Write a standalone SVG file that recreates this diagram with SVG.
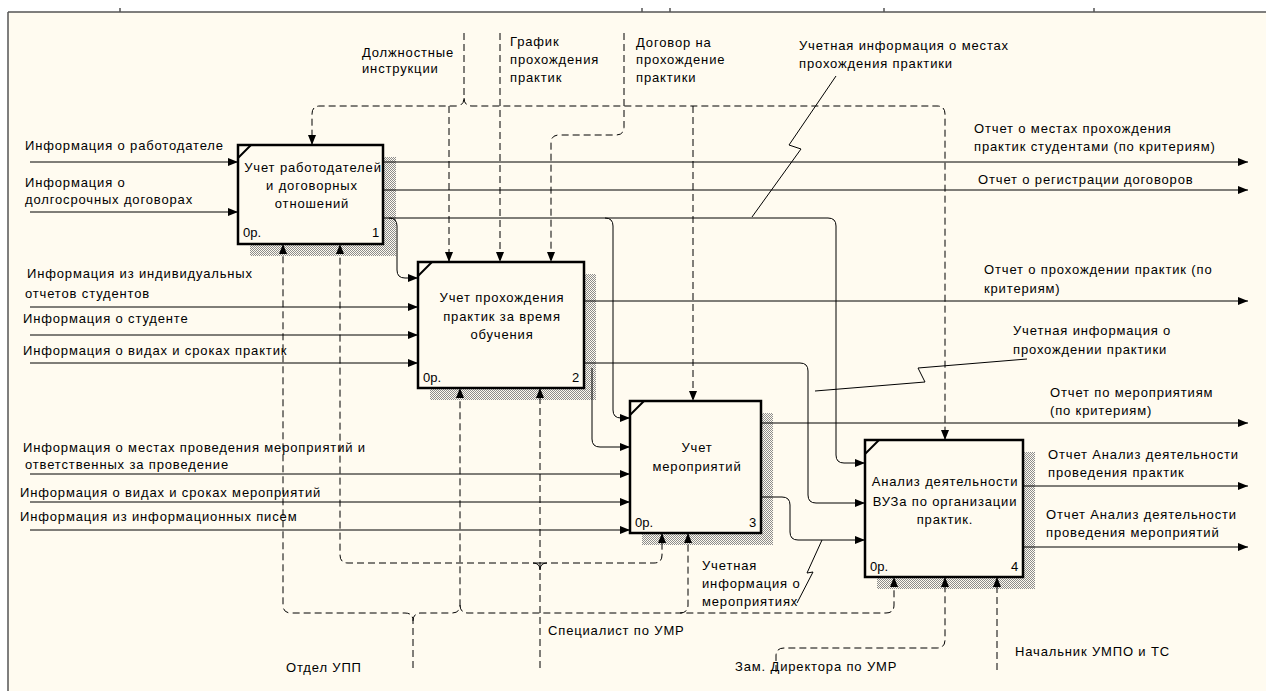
<svg xmlns="http://www.w3.org/2000/svg" width="1266" height="691" viewBox="0 0 1266 691">
<defs>
<pattern id="hatch" width="2" height="2" patternUnits="userSpaceOnUse">
<rect width="2" height="2" fill="#fffbf0"/>
<rect width="1" height="1" fill="#8c8c8c"/>
<rect x="1" y="1" width="1" height="1" fill="#8c8c8c"/>
</pattern>
<marker id="arr" markerUnits="userSpaceOnUse" markerWidth="11" markerHeight="9" refX="10" refY="4" orient="auto">
<path d="M0,0 L10,4 L0,8 Z" fill="#000"/>
</marker>
<style>
.t{font-family:"Liberation Sans",Arial,sans-serif;font-size:13px;letter-spacing:0.85px;fill:#000}
.m{text-anchor:middle}
.box{fill:#fffbf0;stroke:#000;stroke-width:2.5}
.sh{fill:url(#hatch)}
.c{fill:none;stroke:#000;stroke-width:1}
.a{marker-end:url(#arr)}
.d{stroke-dasharray:7,4}
</style>
</defs>
<rect x="0" y="0" width="1266" height="691" fill="#ffffff"/>
<rect x="8" y="12" width="1258" height="679" fill="#fffbf0"/>
<g stroke="#555" stroke-width="1.5">
<line x1="8" y1="12" x2="1266" y2="12"/>
<line x1="8" y1="12" x2="8" y2="691"/>
<line x1="120" y1="8" x2="120" y2="12"/>
<line x1="642" y1="8" x2="642" y2="12"/>
<line x1="670" y1="8" x2="670" y2="12"/>
<line x1="884" y1="8" x2="884" y2="12"/>
<line x1="1094" y1="8" x2="1094" y2="12"/>
</g>

<g id="node1">
<rect class="sh" x="250" y="157" width="146" height="99"/>
<rect class="box" x="238" y="145" width="145" height="99"/>
<line x1="238" y1="158" x2="251" y2="145" stroke="#000" stroke-width="2"/>
<text class="t m" x="313" y="172">Учет работодателей</text>
<text class="t m" x="312" y="190">и договорных</text>
<text class="t m" x="312" y="208">отношений</text>
<text class="t" x="243" y="237" style="letter-spacing:0">0р.</text>
<text class="t" x="372" y="237" style="letter-spacing:0">1</text>
</g>
<g id="node2">
<rect class="sh" x="430" y="274" width="166" height="126"/>
<rect class="box" x="418" y="262" width="166" height="126"/>
<line x1="418" y1="276" x2="432" y2="262" stroke="#000" stroke-width="2"/>
<text class="t m" x="502" y="302">Учет прохождения</text>
<text class="t m" x="502" y="321">практик за время</text>
<text class="t m" x="502" y="339">обучения</text>
<text class="t" x="423" y="382" style="letter-spacing:0">0р.</text>
<text class="t" x="572" y="382" style="letter-spacing:0">2</text>
</g>
<g id="node3">
<rect class="sh" x="642" y="413" width="131" height="132"/>
<rect class="box" x="630" y="401" width="131" height="132"/>
<line x1="630" y1="415" x2="644" y2="401" stroke="#000" stroke-width="2"/>
<text class="t m" x="697" y="452">Учет</text>
<text class="t m" x="697" y="471">мероприятий</text>
<text class="t" x="635" y="527" style="letter-spacing:0">0р.</text>
<text class="t" x="749" y="527" style="letter-spacing:0">3</text>
</g>
<g id="node4">
<rect class="sh" x="877" y="452" width="158" height="137"/>
<rect class="box" x="865" y="440" width="158" height="137"/>
<line x1="865" y1="454" x2="879" y2="440" stroke="#000" stroke-width="2"/>
<text class="t m" x="945" y="486">Анализ деятельности</text>
<text class="t m" x="945" y="506">ВУЗа по организации</text>
<text class="t m" x="945" y="524">практик.</text>
<text class="t" x="870" y="571" style="letter-spacing:0">0р.</text>
<text class="t" x="1011" y="571" style="letter-spacing:0">4</text>
</g>

<g id="connectors">
<path class="c a" d="M30,162 H238"/>
<path class="c a" d="M30,212 H238"/>
<path class="c a" d="M30,307 H418"/>
<path class="c a" d="M30,335 H418"/>
<path class="c a" d="M30,363 H418"/>
<path class="c a" d="M30,474 H630"/>
<path class="c a" d="M30,502 H630"/>
<path class="c a" d="M30,530 H630"/>
<path class="c a" d="M383,162 H1248"/>
<path class="c a" d="M383,190 H1248"/>
<path class="c a" d="M584,301 H1248"/>
<path class="c a" d="M761,423 H1248"/>
<path class="c a" d="M1023,486 H1248"/>
<path class="c a" d="M1023,547 H1248"/>
<path class="c a" d="M389,218 Q397,218 397,226 V270 Q397,278 405,278 H418"/>
<path class="c a" d="M383,218 H605 Q613,218 613,226 V410 Q613,418 621,418 H630"/>
<path class="c a" d="M605,218 H828 Q836,218 836,226 V455 Q836,463 844,463 H865"/>
<path class="c a" d="M592,368 V439 Q592,447 600,447 H630"/>
<path class="c a" d="M584,363 H800 Q808,363 808,371 V495 Q808,503 816,503 H865"/>
<path class="c a" d="M761,497 H782 Q790,497 790,505 V532 Q790,540 798,540 H865"/>
<path class="c d a" d="M464,33 V98 Q464,106 456,106 H320 Q312,106 312,114 V145"/>
<path class="c d a" d="M464,98 Q464,106 472,106 H937 Q945,106 945,114 V440"/>
<path class="c d a" d="M449,106 V262"/>
<path class="c d a" d="M693,106 V401"/>
<path class="c d a" d="M500,33 V262"/>
<path class="c d a" d="M624,33 V127 Q624,135 616,135 H559 Q551,135 551,143 V262"/>
<path class="c d a" d="M413,668 V621 Q413,613 405,613 H291 Q283,613 283,605 V244"/>
<path class="c d a" d="M413,621 Q413,613 421,613 H452 Q460,613 460,605 V388"/>
<path class="c d a" d="M460,605 Q460,613 468,613 H886 Q894,613 894,605 V577"/>
<path class="c d a" d="M680,613 Q688,613 688,605 V533"/>
<path class="c d a" d="M540,668 V388"/>
<path class="c d a" d="M540,563 H654 Q662,563 662,555 V533"/>
<path class="c d a" d="M540,563 H348 Q340,563 340,555 V244"/>
<path class="c" d="M533,563 Q540,563 540,570 M547,563 Q540,563 540,570"/>
<path class="c d a" d="M776,672 V656 Q776,648 784,648 H937 Q945,648 945,640 V577"/>
<path class="c d a" d="M997,670 V577"/>
<path class="c" d="M836,76 L789,145 L801,149 L752,217"/>
<path class="c" d="M1027,359 L918,368 L925,382 L815,391"/>
<path class="c" d="M822,540 L807,573 L813,572 L797,603"/>
</g>

<g id="labels">
<text class="t" x="25" y="150">Информация о работодателе</text>
<text class="t" x="25" y="187">Информация о</text>
<text class="t" x="25" y="204">долгосрочных договорах</text>
<text class="t" x="27" y="278">Информация из индивидуальных</text>
<text class="t" x="25" y="298">отчетов студентов</text>
<text class="t" x="23" y="323">Информация о студенте</text>
<text class="t" x="23" y="355">Информация о видах и сроках практик</text>
<text class="t" x="23" y="452">Информация о местах проведения мероприятий и</text>
<text class="t" x="25" y="469">ответственных за проведение</text>
<text class="t" x="20" y="497">Информация о видах и сроках мероприятий</text>
<text class="t" x="20" y="521">Информация из информационных писем</text>

<text class="t" x="362" y="57">Должностные</text>
<text class="t" x="362" y="73">инструкции</text>
<text class="t" x="510" y="46">График</text>
<text class="t" x="510" y="64">прохождения</text>
<text class="t" x="510" y="82">практик</text>
<text class="t" x="636" y="47">Договор на</text>
<text class="t" x="636" y="64">прохождение</text>
<text class="t" x="636" y="82">практики</text>
<text class="t" x="799" y="50">Учетная информация о местах</text>
<text class="t" x="799" y="68">прохождения практики</text>

<text class="t" x="974" y="133">Отчет о местах прохождения</text>
<text class="t" x="974" y="151">практик студентами (по критериям)</text>
<text class="t" x="978" y="184">Отчет о регистрации договоров</text>
<text class="t" x="984" y="274">Отчет о прохождении практик (по</text>
<text class="t" x="984" y="293">критериям)</text>
<text class="t" x="1013" y="335">Учетная информация о</text>
<text class="t" x="1013" y="354">прохождении практики</text>
<text class="t" x="1050" y="397">Отчет по мероприятиям</text>
<text class="t" x="1050" y="415">(по критериям)</text>
<text class="t" x="1048" y="459">Отчет Анализ деятельности</text>
<text class="t" x="1048" y="477">проведения практик</text>
<text class="t" x="1046" y="519">Отчет Анализ деятельности</text>
<text class="t" x="1046" y="537">проведения мероприятий</text>

<text class="t" x="702" y="570">Учетная</text>
<text class="t" x="702" y="588">информация о</text>
<text class="t" x="702" y="606">мероприятиях</text>
<text class="t" x="548" y="635">Специалист по УМР</text>
<text class="t" x="286" y="672">Отдел УПП</text>
<text class="t" x="735" y="671">Зам. Директора по УМР</text>
<text class="t" x="1015" y="656">Начальник УМПО и ТС</text>
</g>
</svg>
